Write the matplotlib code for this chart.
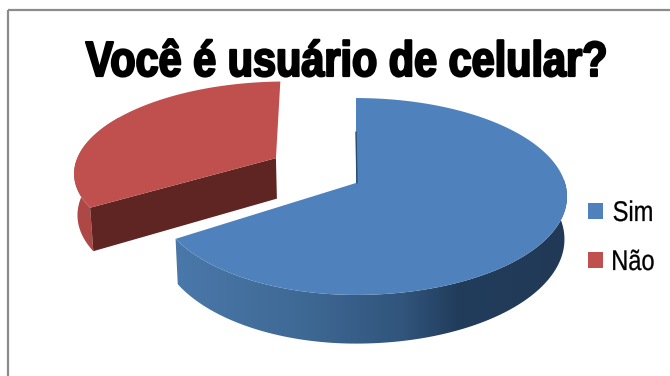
import numpy as np
import matplotlib
matplotlib.use("Agg")
import matplotlib.pyplot as plt
from matplotlib.patches import Polygon, Rectangle
from matplotlib.colors import LinearSegmentedColormap
from matplotlib.patheffects import AbstractPathEffect
from matplotlib.transforms import Affine2D

# chart data
title = "Você é usuário de celular?"
categories = ["Sim", "Não"]
values = [66, 34]
colours = ["#4f81bd", "#c0504d"]

# pie geometry in pixels, y pointing down
cx, cy = 356, 183      # where the slices meet
rx_right = 209         # disc radius to the right of the vertex
rx_left = 198          # and to the left
ry = 96.6
persp = 0.137          # far side of the disc shrinks by this much
depth = 42             # height of the disc
converge = 0.012       # the bottom of the disc draws in towards cx
explode = 0.497        # how far the Não slice is pulled out
explode_turn = 3.7


class SqueezeX(AbstractPathEffect):
    # narrows text around x0 and thickens the strokes a bit
    def __init__(self, sx, x0, weight=0.0):
        super().__init__()
        self.sx = sx
        self.x0 = x0
        self.weight = weight

    def draw_path(self, renderer, gc, tpath, affine, rgbFace=None):
        gc0 = renderer.new_gc()
        gc0.copy_properties(gc)
        gc0.set_linewidth(self.weight)
        if rgbFace is not None:
            gc0.set_foreground(rgbFace)
        squeeze = Affine2D().translate(-self.x0, 0).scale(self.sx, 1).translate(self.x0, 0)
        renderer.draw_path(gc0, tpath, affine + squeeze, rgbFace)
        gc0.restore()


def project(u, v, drop=0.0):
    # disc plane to screen, v is towards the back of the disc
    u = np.asarray(u, dtype=float)
    v = np.asarray(v, dtype=float)
    w = 1 + persp * v
    rx = np.where(u > 0, rx_right, rx_left)
    x = rx * u / w
    if drop:
        x = x * (1 - converge)
    return cx + x, cy + (-ry * v + drop) / w


def rim(a, b, off=(0, 0), drop=0.0, size=(1, 1), n=120):
    t = np.radians(np.linspace(a, b, n))
    x, y = project(size[0] * np.sin(t) + off[0], size[1] * np.cos(t) + off[1], drop)
    return np.column_stack([x, y])


fig = plt.figure(figsize=(6.7, 3.76), dpi=100)
ax = fig.add_axes([0, 0, 1, 1])

# chart frame, runs off the right and bottom
ax.add_patch(Rectangle((8, 10), 700, 400, fill=False, ec="#8c8c8c", lw=1.6))

sim_end = 360 * values[0] / sum(values)
mid = np.radians((sim_end + 360) / 2 + explode_turn)
off = (explode * np.sin(mid), explode * np.cos(mid))
red_size = (1.04, 0.96)

# ----- Não slice, pulled out -----
side = np.vstack([rim(sim_end, 300, off, size=red_size),
                  rim(sim_end, 300, off, depth, red_size)[::-1]])
ax.add_patch(Polygon(side, fc="#ad4846", ec="none"))

vx0 = np.array(project(off[0], off[1])).ravel()
vx1 = np.array(project(off[0], off[1], depth)).ravel()
edge = rim(sim_end, sim_end, off, size=red_size, n=1)[0]
edge_low = rim(sim_end, sim_end, off, depth, red_size, n=1)[0]
ax.add_patch(Polygon([vx0, edge, edge_low, vx1], fc="#5f2523", ec="none"))

top = np.vstack([[vx0], rim(sim_end, 358.5, off, size=red_size)])
ax.add_patch(Polygon(top, fc=colours[1], ec="none"))

# ----- Sim slice, outer wall shaded left to right -----
wall = np.vstack([rim(sim_end, 85), rim(sim_end, 85, drop=depth)[::-1]])
wall_patch = Polygon(wall, fc="none", ec="none")
ax.add_patch(wall_patch)
wall_cmap = LinearSegmentedColormap.from_list(
    "wall", [(0, "#4a78aa"), (0.32, "#3f6995"), (0.58, "#31557c"), (0.72, "#223d5c"), (1, "#213956")])
img = ax.imshow(np.linspace(0, 1, 256)[None, :], cmap=wall_cmap, aspect="auto",
                extent=(175, 567, 350, 180), zorder=1)
img.set_clip_path(wall_patch)

top = np.vstack([[(cx, cy)], rim(0, sim_end)])
ax.add_patch(Polygon(top, fc=colours[0], ec="none", zorder=2))

# dark sliver of the cut face beside the vertex
sliver = rim(0, 0, n=1)[0]
ax.plot([cx + 1, cx + 0.3 * (sliver[0] - cx)], [cy, cy + 0.6 * (sliver[1] - cy)],
        color="#2a4a70", lw=1.0, solid_capstyle="round", zorder=3)

ax.set_xlim(0, 670)
ax.set_ylim(376, 0)
ax.axis("off")

# ----- title and legend -----
ax.text(346, 76, title, fontsize=35.5, family="Liberation Sans", weight="bold",
        ha="center", va="baseline", color="black",
        path_effects=[SqueezeX(0.84, 346, 1.6)])

legend_y = [211, 260]
for name, col, y in zip(categories, colours, legend_y):
    ax.add_patch(Rectangle((588, y - 8), 15, 15.5, fc=col, ec="none"))
    ax.text(633, y + 10, name, fontsize=20.5, family="Liberation Sans",
            ha="center", va="baseline", color="black",
            path_effects=[SqueezeX(0.83, 633, 0.2)])

fig.savefig("out.png", dpi=100)
